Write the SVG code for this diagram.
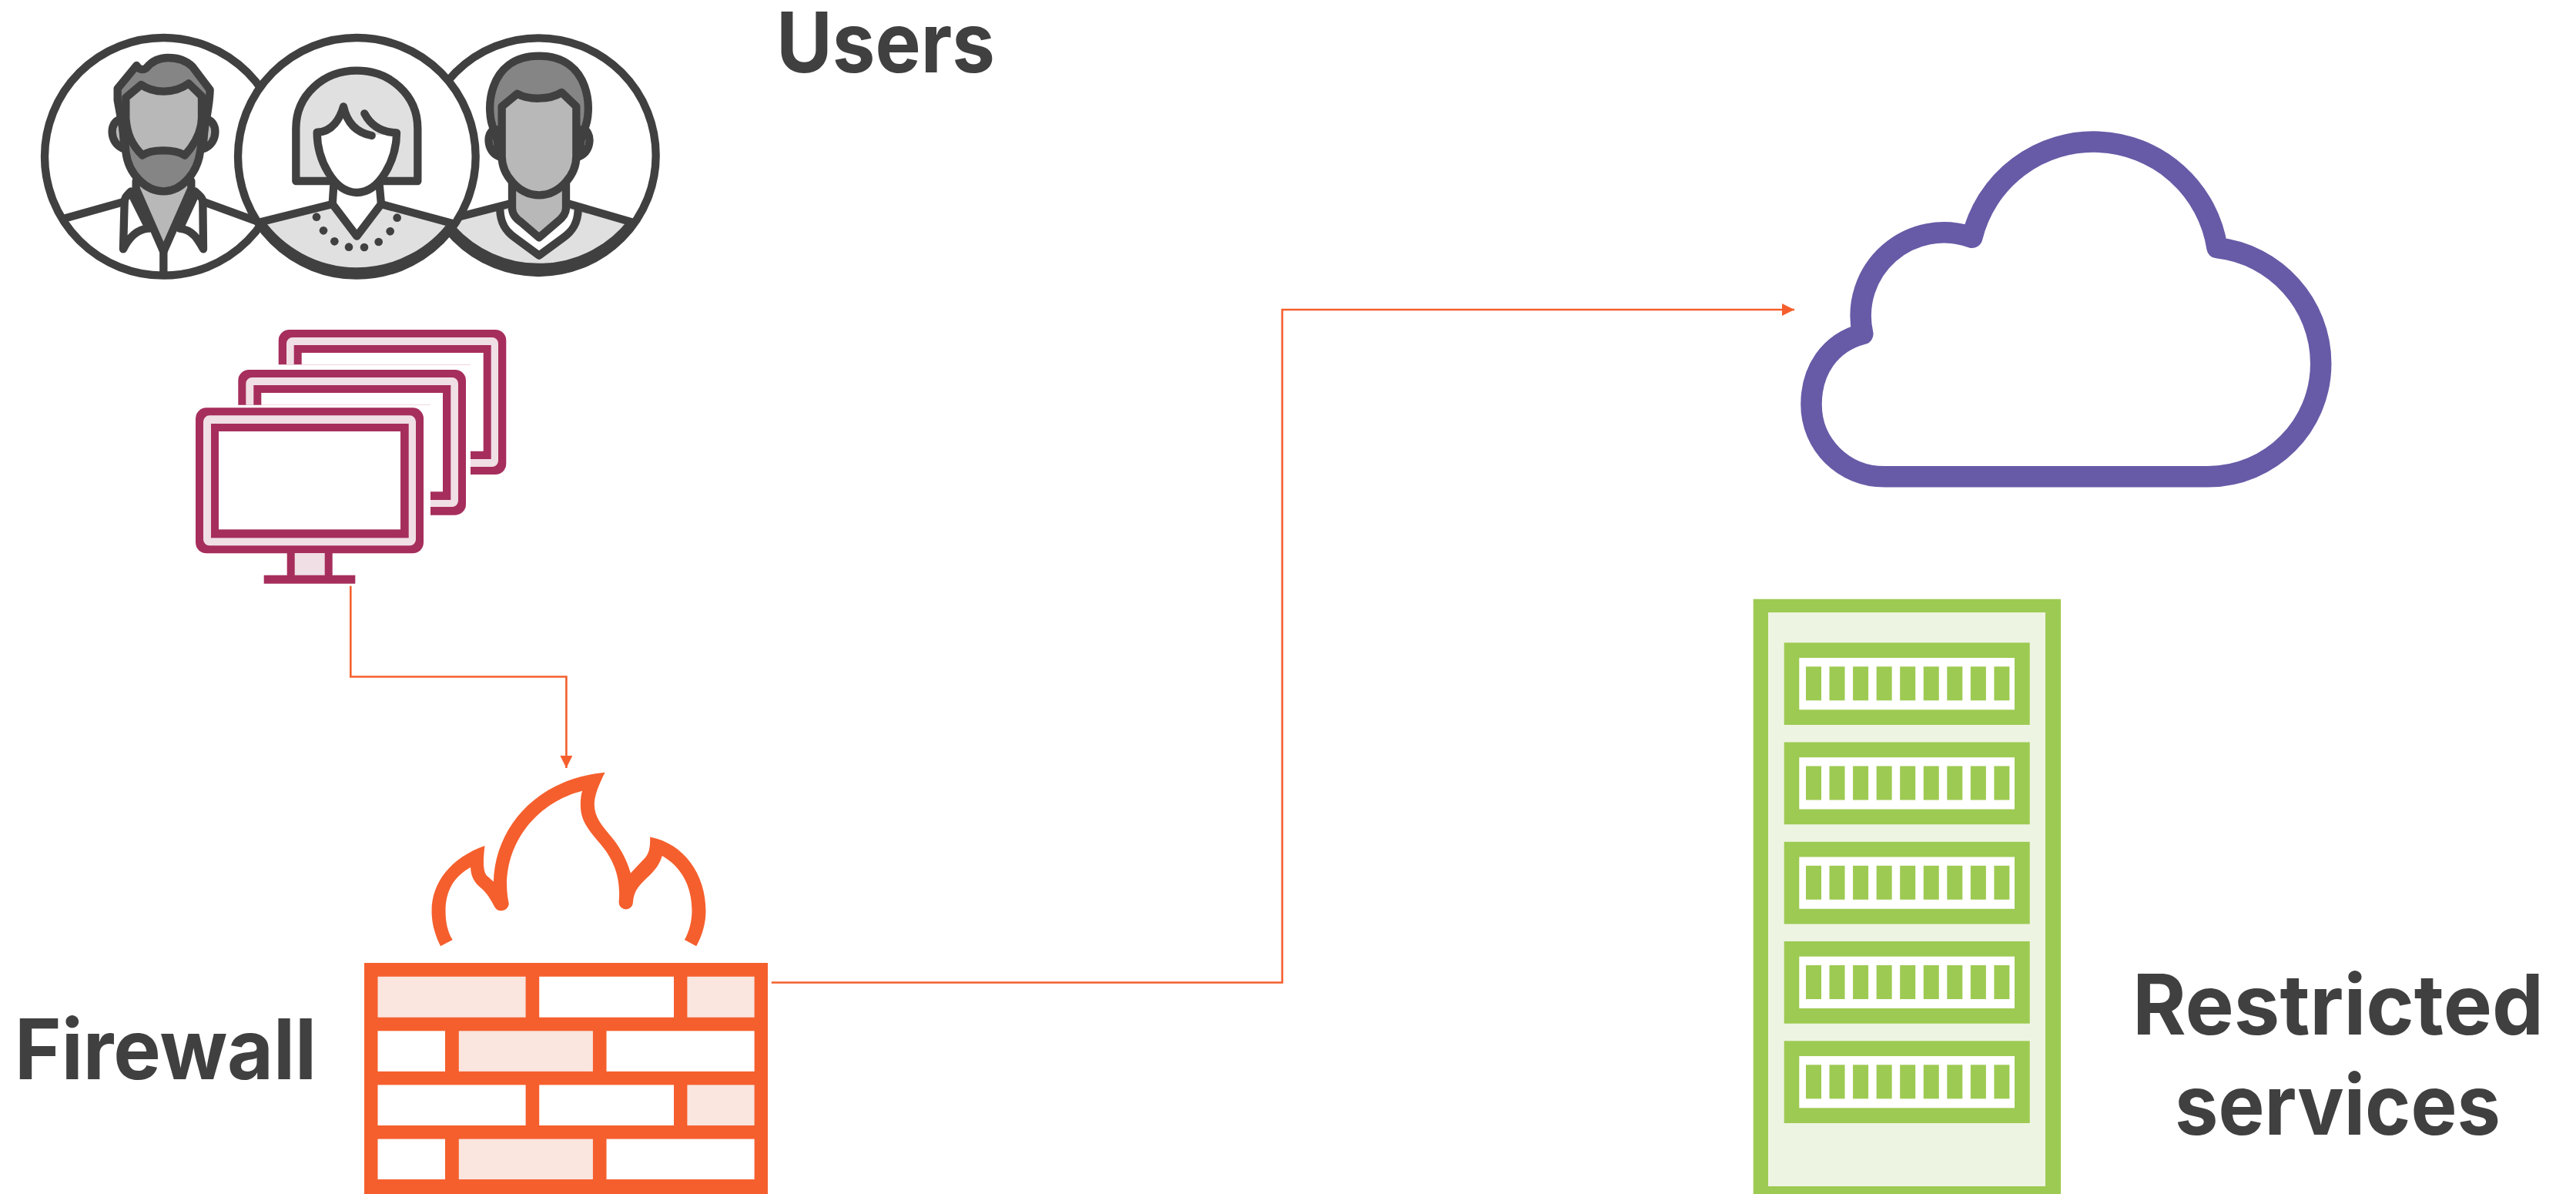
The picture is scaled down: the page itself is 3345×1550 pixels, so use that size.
<svg xmlns="http://www.w3.org/2000/svg" width="3345" height="1550" viewBox="0 0 3345 1550">
<style>
text{font-family:"Inter","Liberation Sans",sans-serif;font-weight:700;font-size:108px;fill:#404040}
.p{stroke:#404040;stroke-width:31;stroke-linejoin:round;stroke-linecap:round}
.n{fill:none}.w{fill:#fff}.l{fill:#e0e0e0}.m{fill:#b8b8b8}.d{fill:#858585}
.mg{fill:#a62e5c}.mgl{fill:#f0dfe5}
.or{fill:#f55f2d}.orl{fill:#fae5df}
.gr{fill:#9dca52}.grl{fill:#eef4e2}
.c{fill:none;stroke:#f55f2d;stroke-width:2.6}
</style>
<defs>
<marker id="a" markerUnits="userSpaceOnUse" markerWidth="17" markerHeight="16" refX="16" refY="8" orient="auto"><path d="M0,0L16,8L0,16Z" fill="#f55f2d"/></marker>
<g id="bars" fill="#9dca52">
<rect x="0" width="20" height="44"/><rect x="30.55" width="20" height="44"/><rect x="61.1" width="20" height="44"/><rect x="91.65" width="20" height="44"/><rect x="122.2" width="20" height="44"/><rect x="152.75" width="20" height="44"/><rect x="183.3" width="20" height="44"/><rect x="213.85" width="20" height="44"/><rect x="244.4" width="20" height="44"/>
</g>
<g id="unit"><rect x="2316.7" y="0" width="319" height="106.7" class="gr"/><rect x="2336.3" y="19.7" width="279.7" height="67.3" fill="#fff"/><use href="#bars" x="2345" y="31"/></g>
</defs>

<g id="user-1" transform="translate(50 40) scale(.33333)">
<circle class="p w" cx="487" cy="490" r="463"/>
<path class="p n" d="M105,730L335,665M640,665L860,745"/>
<path class="p m" d="M380,585L380,615L487,860L595,615L595,585Z"/>
<path class="p n" d="M360,625C345,640 335,650 335,665L330,850C350,810 380,775 425,770M365,640L430,770M610,625C625,640 640,650 640,665L642,850C620,810 600,775 550,770M610,640L550,770M487,860L487,950"/>
<path class="p m" d="M325,345C275,345 270,440 335,460Z"/>
<path class="p m" d="M650,345C700,345 705,440 640,460Z"/>
<path class="p d" stroke-linejoin="miter" d="M382,135L308,225L308,270C320,340 335,400 340,470C350,560 420,625 487,625C560,625 620,550 630,470C640,400 665,320 668,230L600,140C570,110 530,105 505,105C470,105 440,120 420,145C405,155 390,150 382,135Z"/>
<path class="p m" d="M400,210L340,260L340,340C345,400 360,440 405,485C440,460 530,460 570,485C610,440 635,390 636,340L636,255L585,205C530,245 450,245 400,210Z"/>
</g>

<g id="user-3" transform="translate(540 40) scale(.33333)">
<circle class="p w" cx="478" cy="485" r="457"/>
<path class="p l" d="M140,770L165,725L360,675L600,675L840,745A457,457 0 0 1 140,770Z"/>
<path class="p w" d="M328,700C330,750 350,780 385,805L480,875L575,805C610,780 630,750 632,700"/>
<path class="p m" d="M375,590L375,690C375,720 395,735 410,745L480,805L550,745C570,730 585,710 585,690L585,590Z"/>
<path class="p m" d="M310,385C275,385 270,470 325,490Z"/>
<path class="p m" d="M650,385C685,385 690,470 635,490Z"/>
<path class="p d" d="M305,385C270,320 275,98 480,98C685,98 690,320 655,385Z"/>
<path class="p m" d="M395,245L335,295L335,490C335,560 400,640 480,640C560,640 625,560 625,490L625,295L568,240C520,270 440,270 395,245Z"/>
</g>

<g id="user-2" transform="translate(300 40) scale(.33333)">
<circle class="p w" cx="490" cy="490" r="463"/>
<path class="p l" d="M115,745L395,675L490,800L585,675L862,750A463,463 0 0 1 115,745Z"/>
<path class="p n" d="M400,600L395,675M578,600L585,675"/>
<path class="p l" stroke-linejoin="miter" d="M253,585L253,380C253,250 360,155 490,155C620,155 727,250 727,380L727,585Z"/>
<path class="w" d="M335,395C395,395 425,340 438,295C450,350 480,395 545,405L645,405C645,500 580,630 490,630C400,630 335,500 335,395Z"/>
<path class="p n" stroke-linecap="butt" d="M548,408C480,395 450,350 438,295C425,340 395,395 335,395C335,500 400,630 490,630C580,630 645,500 645,397C575,395 540,360 520,322"/>
<g fill="#404040"><circle cx="333" cy="725" r="16"/><circle cx="360" cy="778" r="16"/><circle cx="403" cy="820" r="16"/><circle cx="459" cy="842" r="16"/><circle cx="519" cy="843" r="16"/><circle cx="575" cy="822" r="16"/><circle cx="620" cy="781" r="16"/><circle cx="647" cy="728" r="16"/></g>
</g>

<text id="label-users" x="1008" y="94" textLength="284" lengthAdjust="spacingAndGlyphs">Users</text>

<g id="desktops">
<path class="mg" d="M361.7,473.3V442a14,14 0 0 1 14,-14H643.3a14,14 0 0 1 14,14V602a14,14 0 0 1 -14,14H611V473.3Z"/>
<path class="mgl" d="M372,473.3V446a8,8 0 0 1 8,-8H639a8,8 0 0 1 8,8V598a8,8 0 0 1 -8,8H611V596H637.7V448H381.7V473.3Z"/>
<path fill="#fff" d="M391.7,473.3V458H627.7V585.7H611V473.3Z"/>
<path class="mg" d="M309.3,525.7V494a14,14 0 0 1 14,-14H591a14,14 0 0 1 14,14V654.7a14,14 0 0 1 -14,14H559V525.7Z"/>
<path class="mgl" d="M319.3,525.7V498a8,8 0 0 1 8,-8H587a8,8 0 0 1 8,8V650a8,8 0 0 1 -8,8H559V649H585.3V500H329.3V525.7Z"/>
<path fill="#fff" d="M339.3,525.7V510H575V638.3H559V525.7Z"/>
<rect class="mg" x="254" y="529.3" width="296" height="189" rx="14"/>
<rect class="mgl" x="264" y="539.3" width="276" height="169" rx="8"/>
<rect class="mg" x="274" y="550" width="256.7" height="148.3"/>
<rect fill="#fff" x="284" y="560" width="236" height="127.3"/>
<rect class="mg" x="372.7" y="718" width="59" height="30"/>
<rect class="mgl" x="382.7" y="718" width="39" height="29"/>
<rect class="mg" x="342.7" y="746.7" width="118.6" height="11"/>
</g>

<g id="firewall">
<rect class="or" x="473" y="1250" width="524" height="300"/>
<g fill="#fff">
<rect class="orl" x="490.5" y="1267.8" width="192.1" height="52.9"/><rect x="700.2" y="1267.8" width="174.8" height="52.9"/><rect class="orl" x="892.4" y="1267.8" width="87.2" height="52.9"/>
<rect x="490.5" y="1338.3" width="87.5" height="52.6"/><rect class="orl" x="595.8" y="1338.3" width="174.1" height="52.6"/><rect x="787.5" y="1338.3" width="192.1" height="52.6"/>
<rect x="490.5" y="1408.4" width="192.1" height="52.6"/><rect x="700.2" y="1408.4" width="174.8" height="52.6"/><rect class="orl" x="892.4" y="1408.4" width="87.2" height="52.6"/>
<rect x="490.5" y="1478.6" width="87.5" height="52.4"/><rect class="orl" x="595.8" y="1478.6" width="174.1" height="52.4"/><rect x="787.5" y="1478.6" width="192.1" height="52.4"/>
</g>
<path class="or" transform="translate(440 970) scale(.3827 .3731)" d="M345,692C320,640 315,600 315,570C315,470 380,385 495,343C490,390 488,425 500,445L525,468C530,280 670,110 903,88C885,125 867,165 867,200C867,240 890,270 915,300C950,340 975,385 990,438L1030,395C1050,375 1057,360 1056,312C1170,335 1245,440 1245,570C1245,610 1235,650 1213,692L1173,670C1190,640 1198,600 1198,570C1198,480 1160,415 1097,378C1085,420 1060,440 1035,465C1010,490 1000,510 998,540A24,24 0 0 1 950,540C958,450 930,390 890,340C850,290 820,260 820,200C820,180 822,165 826,152C680,190 570,320 570,480C570,505 573,525 577,545A26,26 0 0 1 528,555C515,530 505,510 480,488C460,470 448,450 447,418C390,450 362,500 362,570C362,610 370,645 386,670Z"/>
</g>
<text id="label-firewall" x="19" y="1401.3" textLength="392" lengthAdjust="spacingAndGlyphs">Firewall</text>

<g id="cloud">
<path fill="none" stroke="#675ba7" stroke-width="27.5" stroke-linejoin="round" stroke-linecap="round" d="M2447,618.8H2867C2948,618.8 3013.7,553 3013.7,472C3013.7,395 2955,330 2879,321.7A162.3,162.3 0 0 0 2560.8,308.3A108,108 0 0 0 2418.8,433.5C2375,445 2352,482 2352,525C2352,577 2394,618.8 2447,618.8Z"/>
</g>

<g id="server">
<rect class="gr" x="2276.7" y="777.7" width="399.3" height="772.3"/>
<rect class="grl" x="2296" y="795" width="360" height="745"/>
<use href="#unit" y="834.3"/><use href="#unit" y="963.5"/><use href="#unit" y="1092.8"/><use href="#unit" y="1222"/><use href="#unit" y="1351.3"/>
</g>
<text id="label-restricted" x="2769" y="1343.3" textLength="534" lengthAdjust="spacingAndGlyphs">Restricted</text>
<text id="label-services" x="2824" y="1472.7" textLength="423" lengthAdjust="spacingAndGlyphs">services</text>

<g id="connectors">
<path class="c" marker-end="url(#a)" d="M455.3,760.7V878.5H735.4V997"/>
<path class="c" marker-end="url(#a)" d="M1001.8,1275.5H1665V402H2330"/>
</g>
</svg>
